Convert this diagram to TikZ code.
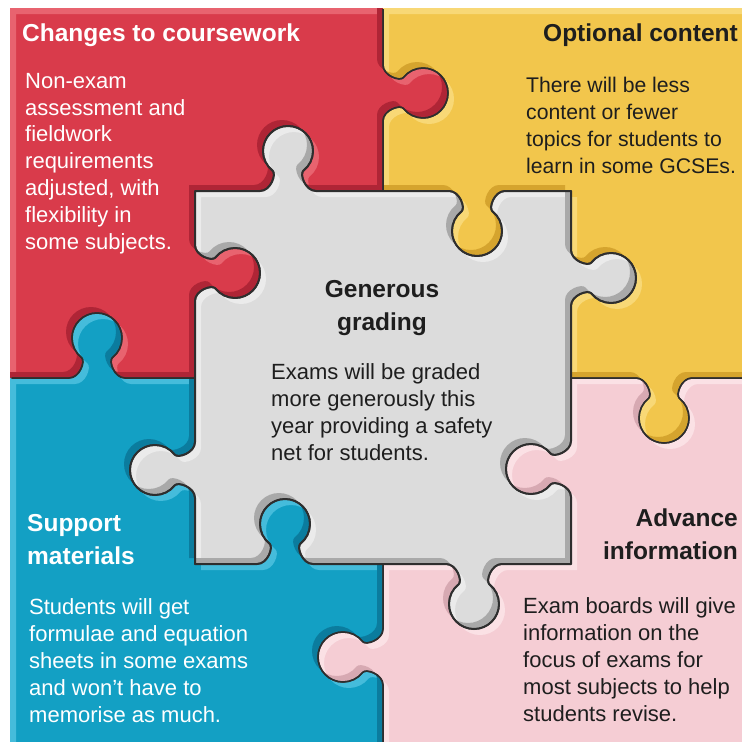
\documentclass[tikz,border=0pt]{standalone}
\usepackage{fontspec}
\setmainfont{Liberation Sans}

\definecolor{redbase}{HTML}{D93B4B}
\definecolor{redlight}{HTML}{E8636F}
\definecolor{reddark}{HTML}{AF2536}
\definecolor{yellowbase}{HTML}{F2C64C}
\definecolor{yellowlight}{HTML}{F8D876}
\definecolor{yellowdark}{HTML}{D5A42E}
\definecolor{bluebase}{HTML}{13A0C4}
\definecolor{bluelight}{HTML}{45BCDB}
\definecolor{bluedark}{HTML}{0B7C9E}
\definecolor{pinkbase}{HTML}{F5CDD4}
\definecolor{pinklight}{HTML}{FBE1E5}
\definecolor{pinkdark}{HTML}{D7A9B2}
\definecolor{greybase}{HTML}{DCDCDC}
\definecolor{greylight}{HTML}{EBEBEB}
\definecolor{greydark}{HTML}{A9A9A9}
\definecolor{outlinegrey}{HTML}{2E2E2E}
\definecolor{textdark}{HTML}{1E1E1E}

% one jigsaw tab: centre (#1,#2) on the edge, travel (#3,#4), bulge (#5,#6)
\newcommand\puzzletab[6]{%
  -- ({#1-28*(#3)},{#2-28*(#4)})
  .. controls ({#1-17*(#3)},{#2-17*(#4)})
          and ({#1-11.45*(#3)+17.2*(#5)},{#2-11.45*(#4)+17.2*(#6)})
  .. ({#1-15.39*(#3)+20.3*(#5)},{#2-15.39*(#4)+20.3*(#6)})
  .. controls ({#1-21.46*(#3)+25.04*(#5)},{#2-21.46*(#4)+25.04*(#6)})
          and ({#1-25*(#3)+32.3*(#5)},{#2-25*(#4)+32.3*(#6)})
  .. ({#1-25*(#3)+40*(#5)},{#2-25*(#4)+40*(#6)})
  .. controls ({#1-25*(#3)+53.81*(#5)},{#2-25*(#4)+53.81*(#6)})
          and ({#1-13.81*(#3)+65*(#5)},{#2-13.81*(#4)+65*(#6)})
  .. ({#1+65*(#5)},{#2+65*(#6)})
  .. controls ({#1+13.81*(#3)+65*(#5)},{#2+13.81*(#4)+65*(#6)})
          and ({#1+25*(#3)+53.81*(#5)},{#2+25*(#4)+53.81*(#6)})
  .. ({#1+25*(#3)+40*(#5)},{#2+25*(#4)+40*(#6)})
  .. controls ({#1+25*(#3)+32.3*(#5)},{#2+25*(#4)+32.3*(#6)})
          and ({#1+21.46*(#3)+25.04*(#5)},{#2+21.46*(#4)+25.04*(#6)})
  .. ({#1+15.39*(#3)+20.3*(#5)},{#2+15.39*(#4)+20.3*(#6)})
  .. controls ({#1+11.45*(#3)+17.2*(#5)},{#2+11.45*(#4)+17.2*(#6)})
          and ({#1+17*(#3)},{#2+17*(#4)})
  .. ({#1+28*(#3)},{#2+28*(#4)})}

% the five pieces
\newcommand\redpiece{(10,8) -- (383,8)
  \puzzletab{383}{93}{0}{1}{1}{0} -- (383,191)
  \puzzletab{288}{191}{-1}{0}{0}{-1} -- (195,191)
  \puzzletab{195}{273}{0}{1}{1}{0} -- (195,378)
  \puzzletab{97}{378}{-1}{0}{0}{-1} -- (10,378) -- cycle}
\newcommand\yellowpiece{(383,8) -- (752,8) -- (752,378)
  \puzzletab{664}{378}{-1}{0}{0}{1} -- (571,378)
  \puzzletab{571}{278}{0}{-1}{1}{0} -- (571,191)
  \puzzletab{477}{191}{-1}{0}{0}{1} -- (383,191)
  \puzzletab{383}{93}{0}{-1}{1}{0} -- cycle}
\newcommand\pinkpiece{(571,378)
  \puzzletab{664}{378}{1}{0}{0}{1} -- (752,378) -- (752,752) -- (383,752)
  \puzzletab{383}{657}{0}{-1}{-1}{0} -- (383,564)
  \puzzletab{474}{564}{1}{0}{0}{1} -- (571,564)
  \puzzletab{571}{469}{0}{-1}{-1}{0} -- cycle}
\newcommand\bluepiece{(10,378)
  \puzzletab{97}{378}{1}{0}{0}{-1} -- (195,378)
  \puzzletab{195}{470}{0}{1}{-1}{0} -- (195,564)
  \puzzletab{285}{564}{1}{0}{0}{-1} -- (383,564)
  \puzzletab{383}{657}{0}{1}{-1}{0} -- (383,752) -- (10,752) -- cycle}
\newcommand\greypiece{(195,191)
  \puzzletab{288}{191}{1}{0}{0}{-1}
  \puzzletab{477}{191}{1}{0}{0}{1} -- (571,191)
  \puzzletab{571}{278}{0}{1}{1}{0}
  \puzzletab{571}{469}{0}{1}{-1}{0} -- (571,564)
  \puzzletab{474}{564}{-1}{0}{0}{1}
  \puzzletab{285}{564}{-1}{0}{0}{-1} -- (195,564)
  \puzzletab{195}{470}{0}{-1}{-1}{0}
  \puzzletab{195}{273}{0}{-1}{1}{0} -- cycle}

% fill a piece with light top-left and dark bottom-right bevel
\newcommand\shadepiece[4]{%
  \begin{scope}
    \clip #1;
    \fill[#2] #1;
    \fill[#3, even odd rule, shift={(6,6)}] (-100,-100) rectangle (900,900) #1;
    \fill[#4, even odd rule, shift={(-6,-6)}] (-100,-100) rectangle (900,900) #1;
  \end{scope}}

\begin{document}
\begin{tikzpicture}[x=1pt, y=-1pt,
    outline/.style={draw=outlinegrey, line width=1.5pt, line join=round},
    title/.style={font=\fontsize{24.5}{32.5}\selectfont\bfseries, inner sep=0pt},
    body/.style={font=\fontsize{22}{26.8}\selectfont, inner sep=0pt, align=left}]
  \useasboundingbox (0,0) rectangle (742,742);
  \fill[white] (0,0) rectangle (742,742);
  \clip (0,0) rectangle (742,742);

  % Pieces
  \shadepiece{\redpiece}{redbase}{redlight}{reddark}
  \shadepiece{\yellowpiece}{yellowbase}{yellowlight}{yellowdark}
  \shadepiece{\pinkpiece}{pinkbase}{pinklight}{pinkdark}
  \shadepiece{\bluepiece}{bluebase}{bluelight}{bluedark}
  \shadepiece{\greypiece}{greybase}{greylight}{greydark}

  % Outlines (none along the outer border)
  \begin{scope}
    \clip (11.5,9.5) rectangle (742,742);
    \draw[outline] \redpiece;
    \draw[outline] \yellowpiece;
    \draw[outline] \pinkpiece;
    \draw[outline] \bluepiece;
  \end{scope}
  \draw[outline, line width=2pt] \greypiece;

  % Texts (anchored on the baseline of their last line)
  \node[title, text=white, anchor=base west] (courseworktitle) at (22,41) {Changes to coursework};
  \node[body, text=white, anchor=base west] (courseworktext) at (25,249)
    {Non-exam\\assessment and\\fieldwork\\requirements\\adjusted, with\\flexibility in\\some subjects.};

  \node[title, text=textdark, anchor=base west] (optionaltitle) at (543,41) {Optional content};
  \node[body, text=textdark, anchor=base west, font=\fontsize{21.2}{26.8}\selectfont] (optionaltext) at (526,173)
    {There will be less\\content or fewer\\topics for students to\\learn in some GCSEs.};

  \node[title, text=textdark, anchor=base, align=center] (gradingtitle) at (382,330) {Generous\\grading};
  \node[body, text=textdark, anchor=base west] (gradingtext) at (271,460)
    {Exams will be graded\\more generously this\\year providing a safety\\net for students.};

  \node[title, text=white, anchor=base west, align=left] (supporttitle) at (27,564) {Support\\materials};
  \node[body, text=white, anchor=base west] (supporttext) at (29,722)
    {Students will get\\formulae and equation\\sheets in some exams\\and won’t have to\\memorise as much.};

  \node[title, text=textdark, anchor=base east, align=right] (advancetitle) at (738,559) {Advance\\information};
  \node[body, text=textdark, anchor=base west] (advancetext) at (523,721)
    {Exam boards will give\\information on the\\focus of exams for\\most subjects to help\\students revise.};
\end{tikzpicture}
\end{document}
